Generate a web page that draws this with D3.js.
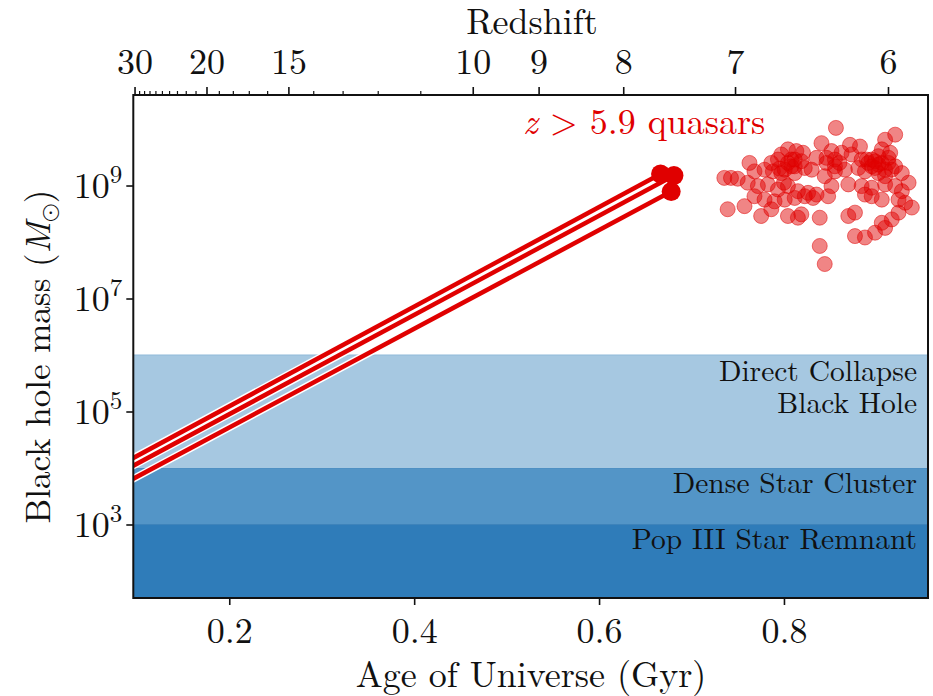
<!DOCTYPE html>
<html>
<head>
<meta charset="utf-8">
<script src="https://cdn.jsdelivr.net/npm/d3@7"></script>
<style>
  body { margin: 0; background: #fff; }
</style>
</head>
<body>
<svg id="chart" width="933" height="696"></svg>
<script>
// ---- data ----
const ageTicks = [0.2, 0.4, 0.6, 0.8];
const massTicks = [1e3, 1e5, 1e7, 1e9];
const redshiftMajor = [30, 20, 15, 10, 9, 8, 7, 6];
const redshiftMinor = [29, 28, 27, 26, 25, 24, 23, 22, 21, 19, 18, 17, 16, 14, 13, 12, 11];

// seed channels: upper mass bound of each band (lower bound = previous band)
const bandNames = ["Pop III Star Remnant", "Dense Star Cluster", "Direct Collapse\nBlack Hole"];
const bandUpper = [1e3, 1e4, 1e6];

// Eddington-limited growth tracks ending on the three most distant quasars
const trackStartAge = [0.09, 0.09, 0.09];
const trackStartMass = [1.33e4, 9.7e3, 5.7e3];
const trackEndAge = [0.6665, 0.681, 0.678];
const trackEndMass = [1.6e9, 1.5e9, 7.8e8];

// z > 5.9 quasars: age of universe (Gyr) and log10 black hole mass
const quasarAge = [
  0.8562, 0.9203, 0.9094, 0.8406, 0.8714, 0.8822, 0.9058, 0.9149, 0.8043, 0.8134,
  0.8206, 0.7971, 0.8514, 0.8623, 0.8731, 0.7627, 0.7935, 0.8080, 0.8352, 0.8460,
  0.8551, 0.8894, 0.8985, 0.9130, 0.9203, 0.8949, 0.7355, 0.7427, 0.7500, 0.7681,
  0.7790, 0.7880, 0.8008, 0.8116, 0.8225, 0.8441, 0.8551, 0.8659, 0.8804, 0.8876,
  0.9021, 0.9094, 0.9275, 0.7608, 0.7718, 0.7826, 0.7935, 0.8043, 0.8151, 0.8261,
  0.8352, 0.8514, 0.8696, 0.8840, 0.8949, 0.9094, 0.9203, 0.9275, 0.9348, 0.7681,
  0.7790, 0.7898, 0.8008, 0.8116, 0.8225, 0.8315, 0.8478, 0.8876, 0.8949, 0.9058,
  0.9239, 0.9311, 0.9383, 0.7391, 0.7573, 0.7753, 0.7863, 0.8043, 0.8151, 0.8188,
  0.8387, 0.8696, 0.8768, 0.9166, 0.9239, 0.8768, 0.8876, 0.8985, 0.9094, 0.9058,
  0.8387, 0.8441, 0.8912, 0.9021, 0.8116, 0.8840, 0.7950, 0.9166, 0.8600, 0.8000,
  0.8043, 0.8080, 0.8188, 0.7971, 0.8116, 0.7863, 0.9021, 0.9058, 0.8985, 0.9130,
  0.9094, 0.8949, 0.8460, 0.8551, 0.8300
];
const quasarLogMass = [
  10.02, 9.90, 9.81, 9.75, 9.72, 9.69, 9.64, 9.58, 9.64, 9.61,
  9.58, 9.55, 9.61, 9.58, 9.55, 9.40, 9.46, 9.46, 9.49, 9.49,
  9.46, 9.46, 9.43, 9.40, 9.34, 9.34, 9.135, 9.135, 9.12, 9.25,
  9.28, 9.25, 9.28, 9.22, 9.31, 9.165, 9.25, 9.28, 9.31, 9.25,
  9.22, 9.165, 9.22, 9.05, 8.99, 9.02, 8.93, 8.99, 8.90, 8.87,
  8.84, 8.99, 9.02, 8.99, 8.96, 9.02, 8.99, 8.90, 9.05, 8.81,
  8.75, 8.72, 8.75, 8.78, 8.81, 8.78, 8.81, 8.84, 8.81, 8.75,
  8.75, 8.695, 8.61, 8.58, 8.635, 8.46, 8.58, 8.46, 8.43, 8.49,
  8.43, 8.46, 8.52, 8.40, 8.52, 8.105, 8.08, 8.165, 8.25, 8.34,
  7.93, 7.61, 9.40, 9.37, 9.34, 9.46, 9.30, 9.28, 9.40, 9.05,
  9.40, 9.34, 9.43, 9.22, 9.46, 9.40, 9.52, 9.40, 9.31, 9.49,
  9.28, 9.46, 9.40, 9.34, 9.28
];

// ---- layout ----
const plot = { left: 133.3, right: 928, top: 95, bottom: 598 };
const RED = "#e00000";
const INK = "#111";
const FONT = '"Latin Modern Roman", "Liberation Serif", serif';
const bandFill = ["#2f7cb9", "#5395c7", "#a6c8e1"];
const bandEdge = ["#2a72ad", "#4a8cc0", "#8fb9d9"];

const svg = d3.select("#chart");
const styled = sel => sel.style("font-family", FONT).style("fill", INK);

const x = d3.scaleLinear().domain([0.0962, 0.9558]).range([plot.left, plot.right]);
const y = d3.scaleLog().domain([50, 4e10]).range([plot.bottom, plot.top]);

// flat LCDM (H0 = 70.3, Om = 0.3): age of the universe in Gyr at redshift z
function ageAt(z) {
  const H0 = 70.3 / 977.8, Om = 0.3, OL = 0.7;
  return 2 / (3 * H0 * Math.sqrt(OL)) * Math.asinh(Math.sqrt(OL / Om) * Math.pow(1 + z, -1.5));
}

svg.append("defs").append("clipPath").attr("id", "plotclip")
  .append("rect")
  .attr("x", plot.left).attr("y", plot.top)
  .attr("width", plot.right - plot.left).attr("height", plot.bottom - plot.top);

const g = svg.append("g").attr("clip-path", "url(#plotclip)");

// seed bands
const bandLower = bandUpper.map((u, i) => i === 0 ? y.domain()[0] : bandUpper[i - 1]);
bandUpper.forEach((u, i) => {
  g.append("rect")
    .attr("x", plot.left).attr("width", plot.right - plot.left)
    .attr("y", y(u)).attr("height", y(bandLower[i]) - y(u))
    .attr("fill", bandFill[i]);
  g.append("line")
    .attr("x1", plot.left).attr("x2", plot.right)
    .attr("y1", y(u)).attr("y2", y(u))
    .attr("stroke", bandEdge[i]).attr("stroke-width", 1.2);
});

// growth tracks
const tracks = trackStartAge.map((a, i) => [[a, trackStartMass[i]], [trackEndAge[i], trackEndMass[i]]]);
const line = d3.line().x(d => x(d[0])).y(d => y(d[1]));
tracks.forEach(t => {
  g.append("path").attr("d", line(t)).attr("fill", "none")
    .attr("stroke", "#fff").attr("stroke-width", 7.5);
});
tracks.forEach(t => {
  g.append("path").attr("d", line(t)).attr("fill", "none")
    .attr("stroke", RED).attr("stroke-width", 4.5);
});
trackEndAge.forEach((a, i) => {
  g.append("circle").attr("cx", x(a)).attr("cy", y(trackEndMass[i]))
    .attr("r", 9.5).attr("fill", RED);
});

// quasars
quasarAge.forEach((a, i) => {
  g.append("circle")
    .attr("cx", x(a)).attr("cy", y(Math.pow(10, quasarLogMass[i])))
    .attr("r", 7.5)
    .attr("fill", RED).attr("fill-opacity", 0.48)
    .attr("stroke", RED).attr("stroke-opacity", 0.5).attr("stroke-width", 1);
});

// band labels
const bandLabelBaselines = [549, 493, 381];
bandNames.forEach((name, i) => {
  const t = styled(svg.append("text"))
    .attr("x", 917).attr("y", bandLabelBaselines[i])
    .attr("text-anchor", "end").attr("font-size", 29.5);
  name.split("\n").forEach((s, k) => {
    t.append("tspan").attr("x", 917).attr("dy", k === 0 ? 0 : 32).text(s);
  });
});

// quasar label
const ql = svg.append("text").attr("x", 523).attr("y", 134)
  .attr("font-size", 36).style("font-family", FONT).style("fill", RED);
ql.append("tspan").attr("font-style", "italic").text("z");
ql.append("tspan").text(" > 5.9 quasars");

// ---- axes ----
// bottom
const bottomAxis = d3.axisBottom(x).tickValues(ageTicks).tickSize(7).tickPadding(12)
  .tickFormat(d3.format(".1f"));
const gb = svg.append("g").attr("transform", `translate(0,${plot.bottom})`).call(bottomAxis);
gb.select(".domain").remove();
gb.selectAll(".tick line").attr("stroke", INK).attr("stroke-width", 1.6);
styled(gb.selectAll(".tick text")).attr("font-size", 36);

// left
const leftAxis = d3.axisLeft(y).tickValues(massTicks).tickSize(7).tickFormat("");
const gl = svg.append("g").attr("transform", `translate(${plot.left},0)`).call(leftAxis);
gl.select(".domain").remove();
gl.selectAll(".tick line").attr("stroke", INK).attr("stroke-width", 1.6);
gl.selectAll(".tick").each(function (d) {
  const t = styled(d3.select(this).append("text"))
    .attr("x", -11).attr("y", 12).attr("text-anchor", "end")
    .attr("font-size", 36);
  t.append("tspan").text("10");
  t.append("tspan").attr("dy", -15).attr("font-size", 25).text(Math.round(Math.log10(d)));
});

// top (redshift)
const xz = z => x(ageAt(z));
const gt = svg.append("g");
redshiftMinor.forEach(z => {
  gt.append("line").attr("x1", xz(z)).attr("x2", xz(z))
    .attr("y1", plot.top).attr("y2", plot.top - 4)
    .attr("stroke", INK).attr("stroke-width", 1.2);
});
redshiftMajor.forEach(z => {
  gt.append("line").attr("x1", xz(z)).attr("x2", xz(z))
    .attr("y1", plot.top).attr("y2", plot.top - 8)
    .attr("stroke", INK).attr("stroke-width", 1.6);
  styled(gt.append("text")).attr("x", xz(z)).attr("y", 74)
    .attr("text-anchor", "middle").attr("font-size", 36).text(z);
});

// frame
svg.append("rect")
  .attr("x", plot.left).attr("y", plot.top)
  .attr("width", plot.right - plot.left).attr("height", plot.bottom - plot.top)
  .attr("fill", "none").attr("stroke", INK).attr("stroke-width", 2);

// axis titles
styled(svg.append("text")).attr("x", 531).attr("y", 687).attr("text-anchor", "middle")
  .attr("font-size", 36).text("Age of Universe (Gyr)");
styled(svg.append("text")).attr("x", 532).attr("y", 34).attr("text-anchor", "middle")
  .attr("font-size", 36).text("Redshift");

const yl = styled(svg.append("text"))
  .attr("transform", `translate(50,${(plot.top + plot.bottom) / 2 + 10}) rotate(-90)`)
  .attr("text-anchor", "middle").attr("font-size", 35);
yl.append("tspan").text("Black hole mass (");
yl.append("tspan").attr("font-style", "italic").text("M");
yl.append("tspan").attr("dy", 7).attr("font-size", 24)
  .style("font-family", '"Latin Modern Math", "DejaVu Serif", serif').text("⊙");
yl.append("tspan").attr("dy", -7).text(")");
</script>
</body>
</html>
